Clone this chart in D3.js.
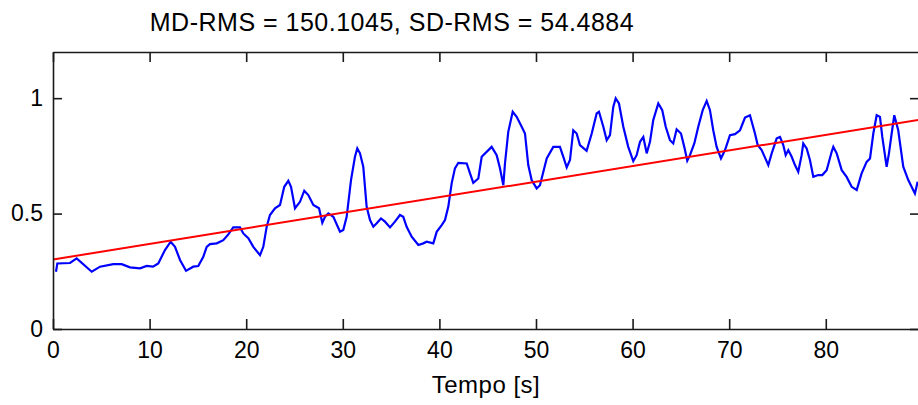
<!DOCTYPE html>
<html>
<head>
<meta charset="utf-8">
<script src="https://cdn.jsdelivr.net/npm/d3@7/dist/d3.min.js"></script>
<style>
  body { margin: 0; background: #fff; }
  text { font-family: "Liberation Sans", Arial, sans-serif; fill: #000; }
</style>
</head>
<body>
<div id="chart"></div>
<script>
// time axis (s) and normalised RMS
const timeSec = [0.31,0.45,1.76,2.45,4.01,4.87,6.24,7.11,7.97,9.01,
  9.70,10.35,10.90,11.59,12.18,12.63,13.15,13.77,14.52,15.04,
  15.56,15.91,16.25,16.95,17.63,18.15,18.66,19.36,19.70,20.22,
  20.74,21.43,21.77,22.12,22.46,22.98,23.50,23.94,24.36,24.64,
  25.05,25.57,26.01,26.43,26.95,27.54,27.88,28.16,28.50,29.02,
  29.71,30.05,30.40,30.85,31.26,31.50,31.78,32.12,32.47,32.82,
  33.16,33.51,33.95,34.37,34.89,35.40,35.92,36.26,36.61,37.13,
  37.82,38.33,38.68,39.37,39.72,40.24,40.58,40.92,41.27,41.61,
  41.96,42.83,43.17,43.51,44.03,44.38,45.41,45.93,46.27,46.62,
  46.79,47.13,47.59,48.00,48.52,48.86,49.20,49.55,50.07,50.41,
  51.11,51.79,52.48,52.83,53.18,53.52,53.86,54.21,54.55,55.24,
  55.77,56.28,56.52,56.97,57.32,57.66,58.00,58.25,58.59,59.04,
  59.55,60.07,60.42,60.77,61.11,61.46,61.80,62.14,62.66,63.07,
  63.43,63.87,64.21,64.56,65.01,65.35,65.66,65.94,66.39,66.80,
  67.26,67.67,68.01,68.35,68.70,69.15,69.57,70.08,70.60,71.12,
  71.64,72.15,72.67,72.95,73.36,74.05,74.40,74.92,75.26,75.60,
  75.85,76.12,76.47,76.81,77.15,77.50,77.67,78.02,78.36,78.71,
  79.22,79.64,80.09,80.61,80.78,81.13,81.65,82.16,82.68,83.20,
  83.71,84.23,84.58,84.92,85.27,85.61,85.85,86.30,86.54,86.82,
  87.09,87.50,88.02,88.54,89.23,89.51];

const rmsNorm = [0.248,0.284,0.286,0.306,0.248,0.270,0.281,0.281,0.267,0.263,
  0.273,0.270,0.284,0.342,0.378,0.356,0.299,0.252,0.270,0.273,
  0.313,0.356,0.368,0.371,0.385,0.410,0.440,0.440,0.414,0.393,
  0.356,0.320,0.356,0.443,0.494,0.523,0.537,0.616,0.642,0.616,
  0.523,0.551,0.599,0.580,0.537,0.523,0.460,0.486,0.501,0.486,
  0.421,0.429,0.486,0.645,0.746,0.782,0.761,0.703,0.529,0.472,
  0.443,0.458,0.479,0.465,0.440,0.465,0.494,0.486,0.443,0.400,
  0.364,0.371,0.378,0.371,0.421,0.450,0.472,0.529,0.631,0.696,
  0.720,0.717,0.674,0.633,0.652,0.746,0.789,0.753,0.696,0.623,
  0.717,0.854,0.941,0.919,0.876,0.847,0.710,0.645,0.609,0.623,
  0.739,0.789,0.789,0.746,0.700,0.732,0.861,0.847,0.797,0.772,
  0.847,0.934,0.941,0.876,0.818,0.840,0.962,0.999,0.977,0.876,
  0.789,0.727,0.753,0.811,0.832,0.761,0.811,0.905,0.977,0.948,
  0.876,0.818,0.804,0.865,0.847,0.789,0.729,0.753,0.804,0.876,
  0.948,0.988,0.948,0.861,0.789,0.739,0.775,0.840,0.844,0.861,
  0.916,0.926,0.847,0.797,0.775,0.710,0.761,0.826,0.832,0.797,
  0.753,0.775,0.746,0.710,0.681,0.753,0.804,0.782,0.732,0.659,
  0.667,0.667,0.688,0.768,0.789,0.761,0.688,0.659,0.616,0.602,
  0.674,0.724,0.739,0.847,0.926,0.919,0.832,0.703,0.761,0.847,
  0.926,0.861,0.703,0.645,0.587,0.638];

// linear fit (red)
const trendTime = [0, 89.65];
const trendValue = [0.301, 0.906];

const xTicks = [0, 10, 20, 30, 40, 50, 60, 70, 80];
const yTicks = [0, 0.5, 1];
const titleText = "MD-RMS = 150.1045, SD-RMS = 54.4884";
const xLabelText = "Tempo [s]";

const width = 918, height = 405;
const margin = {top: 52, right: -1, bottom: 76, left: 53};

const svg = d3.select("#chart").append("svg")
    .attr("width", width)
    .attr("height", height);

const x = d3.scaleLinear()
    .domain([0, 89.65])
    .range([margin.left, width - margin.right]);

const y = d3.scaleLinear()
    .domain([0, 1.2])
    .range([height - margin.bottom, margin.top]);

svg.append("clipPath").attr("id", "plotClip")
  .append("rect")
    .attr("x", x(0)).attr("y", y(1.2))
    .attr("width", x(89.65) - x(0)).attr("height", y(0) - y(1.2));

const plot = svg.append("g").attr("clip-path", "url(#plotClip)");

const line = d3.line()
    .x(d => x(d[0]))
    .y(d => y(d[1]));

plot.append("path")
    .datum(d3.zip(timeSec, rmsNorm))
    .attr("fill", "none")
    .attr("stroke", "#0000ff")
    .attr("stroke-width", 2.2)
    .attr("d", line);

plot.append("path")
    .datum(d3.zip(trendTime, trendValue))
    .attr("fill", "none")
    .attr("stroke", "#ff0000")
    .attr("stroke-width", 2)
    .attr("d", line);

// box axes, ticks pointing inward
const gx = svg.append("g")
    .attr("transform", "translate(0," + y(0) + ")")
    .call(d3.axisBottom(x).tickValues(xTicks).tickFormat(d3.format("d"))
        .tickSizeInner(-10).tickSizeOuter(0).tickPadding(13));

const gxTop = svg.append("g")
    .attr("transform", "translate(0," + y(1.2) + ")")
    .call(d3.axisTop(x).tickValues(xTicks).tickFormat("")
        .tickSizeInner(-10).tickSizeOuter(0));

const gy = svg.append("g")
    .attr("transform", "translate(" + x(0) + ",0)")
    .call(d3.axisLeft(y).tickValues(yTicks).tickFormat(d => d === 0.5 ? "0.5" : d3.format("d")(d))
        .tickSizeInner(-9).tickSizeOuter(0).tickPadding(10));

const gyRight = svg.append("g")
    .attr("transform", "translate(" + x(89.65) + ",0)")
    .call(d3.axisRight(y).tickValues(yTicks).tickFormat("")
        .tickSizeInner(-9).tickSizeOuter(0));

svg.selectAll(".domain, .tick line")
    .attr("stroke", "#1a1a1a")
    .attr("stroke-width", 1.6);

svg.selectAll(".tick text")
    .attr("font-size", 23)
    .attr("fill", "#000")
    .style("font-family", "'Liberation Sans', Arial, sans-serif");

svg.append("text")
    .attr("x", 392)
    .attr("y", 31)
    .attr("text-anchor", "middle")
    .attr("font-size", 25)
    .attr("letter-spacing", 0.5)
    .text(titleText);

svg.append("text")
    .attr("x", (x(0) + x(89.65)) / 2)
    .attr("y", 393)
    .attr("text-anchor", "middle")
    .attr("font-size", 24)
    .attr("letter-spacing", 0.5)
    .text(xLabelText);
</script>
</body>
</html>
